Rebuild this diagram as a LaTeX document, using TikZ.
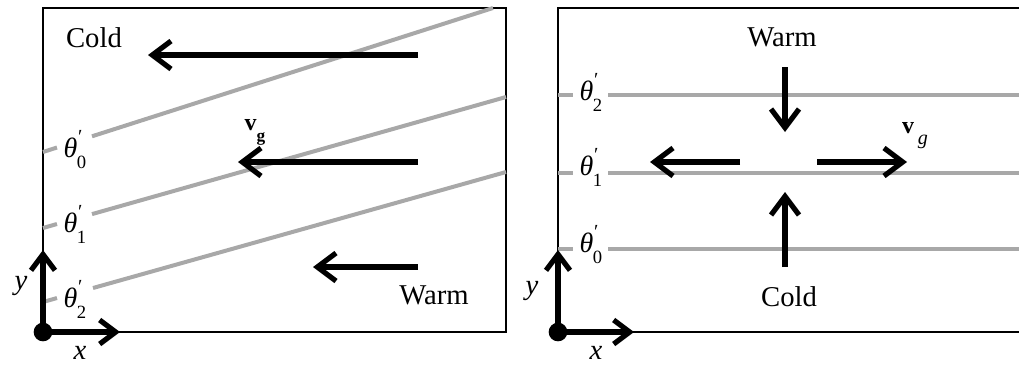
\documentclass[tikz,border=0pt]{standalone}
\usepackage{fontspec}
\setmainfont{Liberation Serif}
\usetikzlibrary{arrows.meta}
\newcommand{\thp}[1]{\textit{θ}\kern-0.02em\rlap{\raisebox{0.5em}{\fontsize{15}{15}\selectfont\textit{′}}}\raisebox{-0.4em}{\fontsize{14}{14}\selectfont #1}}
\tikzset{
  frame/.style={line width=1.5pt, black},
  isen/.style={line width=3pt, draw={rgb,255:red,168;green,168;blue,168}},
  flow/.style={line width=3.9pt, -{Straight Barb[length=14pt,width=21pt,line width=3.9pt]}},
  axis/.style={line width=3.9pt, -{Straight Barb[length=12pt,width=18pt,line width=3.9pt]}},
  lbl/.style={font=\fontsize{21.5}{24}\selectfont, inner sep=0pt},
  thl/.style={font=\fontsize{21}{22}\selectfont, inner sep=0pt, anchor=base},
  vg/.style={inner sep=0pt}
}
\begin{document}
\begin{tikzpicture}[x=0.75pt,y=-0.75pt]
\useasboundingbox (0,0) rectangle (1019,365);
% ---------- left panel ----------
\draw[frame] (43,8) rectangle (506,332);
\draw[isen] (43,152) -- (57,147.5);
\draw[isen] (92,136.3) -- (493,8);
\draw[isen] (43,228) -- (57,224);
\draw[isen] (92,214.1) -- (506,97);
\draw[isen] (43,302) -- (57,298);
\draw[isen] (93,288) -- (506,172);
\node[thl] (L0) at (75,157) {\thp{0}};
\node[thl] (L1) at (75,232) {\thp{1}};
\node[thl] (L2) at (75,307) {\thp{2}};
\coordinate (a1s) at (418,55);  \coordinate (a1e) at (148,55);
\coordinate (a2s) at (418,162); \coordinate (a2e) at (238,162);
\coordinate (a3s) at (418,267); \coordinate (a3e) at (313,267);
\draw[flow] (a1s) -- (a1e);
\draw[flow] (a2s) -- (a2e);
\draw[flow] (a3s) -- (a3e);
\node[lbl] (coldL) at (94,38) {Cold};
\node[lbl] (warmL) at (434,295) {Warm};
\node[vg] (vgL) at (255,132) {\fontsize{18}{18}\selectfont\textbf{v}\raisebox{-0.45em}{\fontsize{13}{13}\selectfont\textbf{g}}};
\coordinate (oL) at (43,332);
\coordinate (yL) at (43,250);
\coordinate (xL) at (120,332);
\draw[axis] (oL) -- (yL);
\draw[axis] (oL) -- (xL);
\fill (oL) circle[radius=7pt];
\node[lbl] (yLab) at (21,286) {\textit{y}};
\node[lbl] (xLab) at (80,353) {\textit{x}};
% ---------- right panel ----------
\draw[frame] (1019,8) -| (558,332) -- (1019,332);
\draw[isen] (558,95) -- (573,95);
\draw[isen] (608,95) -- (1019,95);
\draw[isen] (558,173) -- (573,173);
\draw[isen] (608,173) -- (1019,173);
\draw[isen] (558,249) -- (573,249);
\draw[isen] (608,249) -- (1019,249);
\node[thl] (R2) at (591,100) {\thp{2}};
\node[thl] (R1) at (591,175) {\thp{1}};
\node[thl] (R0) at (591,252) {\thp{0}};
\coordinate (dS) at (785,67);  \coordinate (dE) at (785,132);
\coordinate (uS) at (785,267); \coordinate (uE) at (785,192);
\coordinate (lS) at (740,162); \coordinate (lE) at (650,162);
\coordinate (rS) at (817,162); \coordinate (rE) at (907,162);
\draw[flow] (dS) -- (dE);
\draw[flow] (uS) -- (uE);
\draw[flow] (lS) -- (lE);
\draw[flow] (rS) -- (rE);
\node[lbl] (warmR) at (782,37) {Warm};
\node[lbl] (coldR) at (789,297) {Cold};
\node[vg] (vgR) at (915,136) {\fontsize{18}{18}\selectfont\textbf{v}\kern0.15em\raisebox{-0.45em}{\fontsize{15}{15}\selectfont\textit{g}}};
\coordinate (oR) at (558,332);
\coordinate (yR) at (558,250);
\coordinate (xR) at (634,332);
\draw[axis] (oR) -- (yR);
\draw[axis] (oR) -- (xR);
\fill (oR) circle[radius=7pt];
\node[lbl] (yLabR) at (532,291) {\textit{y}};
\node[lbl] (xLabR) at (596,353) {\textit{x}};
\end{tikzpicture}
\end{document}
